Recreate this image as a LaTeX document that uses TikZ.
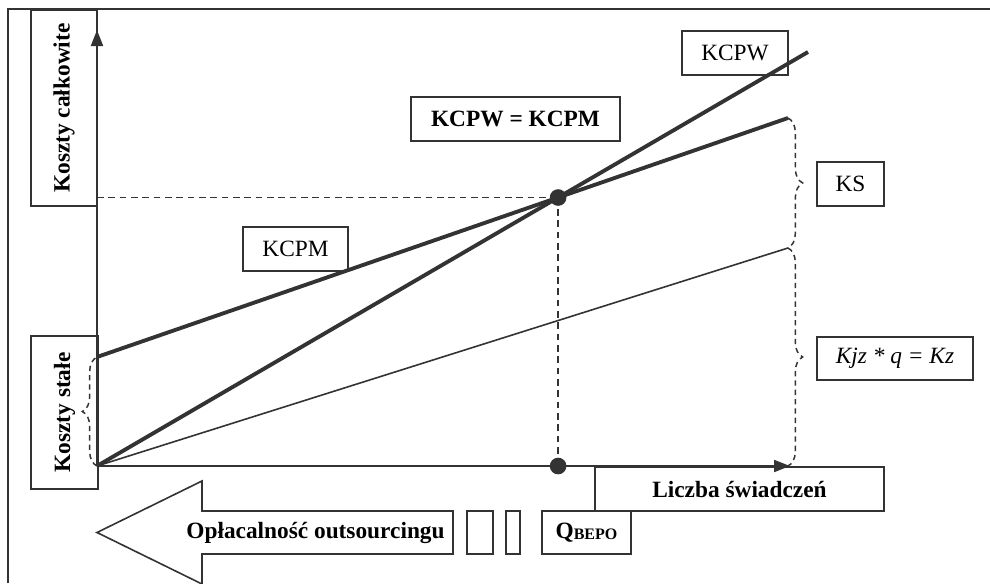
\documentclass[tikz,border=0pt]{standalone}
\usepackage{fontspec}
\setmainfont{Liberation Serif}
\usetikzlibrary{arrows.meta,decorations.pathreplacing}
\definecolor{ink}{HTML}{333333}
\begin{document}
\begin{tikzpicture}[x=0.75pt,y=-0.75pt,
  box/.style={draw=ink, line width=1.3pt, inner sep=0pt, font=\fontsize{17.5}{20}\selectfont},
  bbox/.style={box, font=\fontsize{17.5}{20}\selectfont\bfseries},
  axisline/.style={draw=ink, line width=1.5pt, -{Triangle[length=12pt,width=9pt]}},
  costline/.style={draw=ink, line width=2.9pt},
  thinline/.style={draw=ink, line width=1.2pt},
  guide/.style={draw=ink, line width=1.4pt, dash pattern=on 5pt off 3.5pt},
  curly/.style={draw=ink, line width=1.1pt, dash pattern=on 4pt off 3pt, decorate, decoration={brace, amplitude=11pt, aspect=0.5}},
  dot/.style={circle, fill=ink, inner sep=0pt, minimum size=12.5pt}
]
\useasboundingbox (0,0) rectangle (990,583);
% outer frame
\draw[ink, line width=1.2pt] (8,583) -- (8,9) -- (990,9);

% boxes
\node[bbox, rotate=90, minimum width=147pt, minimum height=49.5pt] (kc) at (64,108) {Koszty całkowite};
\node[bbox, rotate=90, minimum width=114.75pt, minimum height=50.25pt] (kst) at (64.5,412.5) {Koszty stałe};
\node[box, minimum width=79.5pt, minimum height=33pt] (kcpw) at (735,53) {KCPW};
\node[bbox, minimum width=156.75pt, minimum height=33pt] (eq) at (515.5,119) {KCPW = KCPM};
\node[box, minimum width=78.75pt, minimum height=33pt] (kcpm) at (295.5,249) {KCPM};
\node[box, minimum width=50.25pt, minimum height=33pt] (ks) at (850.5,184) {KS};
\node[box, minimum width=117pt, minimum height=32.5pt] (kz) at (895,358.5) {\itshape Kjz * q = Kz};
\node[bbox, minimum width=216.75pt, minimum height=33pt] (liczba) at (739.5,489) {Liczba świadczeń};
\node[bbox, minimum width=66.75pt, minimum height=32.5pt] (qbepo) at (586.5,532.5) {Q\raisebox{-1pt}{\fontsize{12}{12}\selectfont BEPO}};
\node[box, minimum width=19.5pt, minimum height=32.5pt] (sb1) at (480,532.5) {};
\node[box, minimum width=10.5pt, minimum height=32.5pt] (sb2) at (513,532.5) {};

% big arrow
\draw[ink, line width=1.2pt] (453,511) -- (202,511) -- (202,481) -- (97,532.5) -- (202,584) -- (202,554) -- (453,554) -- cycle;
\node[font=\fontsize{17.5}{20}\selectfont\bfseries, inner sep=0pt] (opl) at (315.5,533) {Opłacalność outsourcingu};

% key coordinates
\coordinate (O) at (97,466);
\coordinate (A) at (97,357);
\coordinate (B) at (788,118);
\coordinate (C) at (808,52);
\coordinate (D) at (788,248);
\coordinate (Ytop) at (97,30);
\coordinate (Xend) at (790,466);
\coordinate (P) at (intersection of A--B and O--C);
\coordinate (Q) at (P |- O);
\coordinate (Py) at (P -| O);
\coordinate (Dx) at (D |- O);

% guides
\draw[guide] (Py) -- (P);
\draw[guide] (P) -- (Q);

% axes
\draw[axisline] (O) -- (Ytop);
\draw[axisline] (O) -- (Xend);

% cost lines
\draw[thinline] (O) -- (D);
\draw[costline] (A) -- (B);
\draw[costline] (O) -- (C);

% dots
\node[dot] (pdot) at (P) {};
\node[dot] (qdot) at (Q) {};

% braces
\draw[curly] (B) -- (D);
\draw[curly] (D) -- (Dx);
\draw[curly] (O) -- (A);
\end{tikzpicture}
\end{document}
